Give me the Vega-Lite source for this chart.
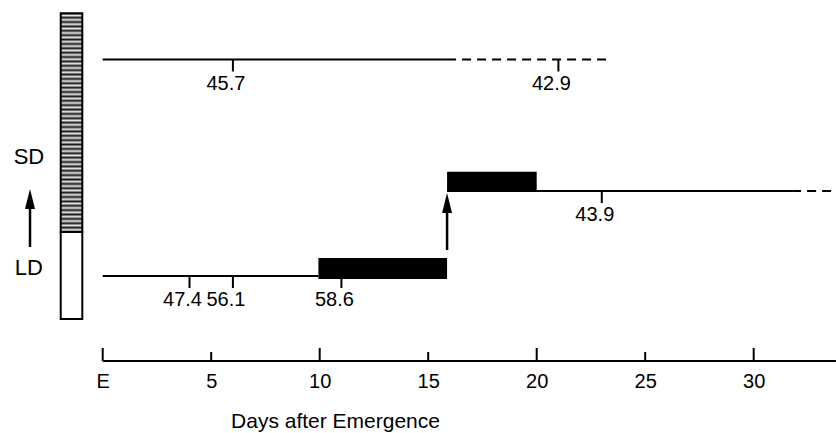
{
  "$schema": "https://vega.github.io/schema/vega-lite/v6.json",
  "width": 836,
  "height": 433,
  "autosize": {"type": "none"},
  "padding": 0,
  "background": "white",
  "config": {
    "view": {"stroke": null},
    "font": "Liberation Sans",
    "axisX": {
      "domain": false,
      "ticks": false,
      "grid": false,
      "offset": -72,
      "labelPadding": 10,
      "labelFontSize": 20,
      "labelColor": "black",
      "labelFlush": false,
      "labelOverlap": false,
      "labelBound": false,
      "labelFont": "Liberation Sans",
      "titleFont": "Liberation Sans",
      "titleFontSize": 21,
      "titleFontWeight": "normal",
      "titleColor": "black"
    }
  },
  "datasets": {
    "photoperiodBar": [
      {"day": -1.935, "day_end": -0.94, "level": 129, "level_end": 347.7, "regime": "SD"},
      {"day": -1.935, "day_end": -0.94, "level": 42, "level_end": 129, "regime": "LD"}
    ],
    "lines": [
      {"day": 0, "day_end": 15.87, "level": 301.5, "style": "solid"},
      {"day": 15.87, "day_end": 23.47, "level": 301.5, "style": "dashed"},
      {"day": 15.87, "day_end": 31.77, "level": 170, "style": "solid"},
      {"day": 31.77, "day_end": 33.79, "level": 170, "style": "dashed"},
      {"day": 0, "day_end": 9.94, "level": 85, "style": "solid"},
      {"day": 0, "day_end": 33.79, "level": 0, "style": "solid"}
    ],
    "blocks": [
      {"day": 9.94, "day_end": 15.87, "level": 82, "level_end": 103},
      {"day": 15.87, "day_end": 20.0, "level": 169.3, "level_end": 189.3}
    ],
    "readings": [
      {"day": 6, "level": 301.5, "value": "45.7"},
      {"day": 21, "level": 301.5, "value": "42.9"},
      {"day": 23, "level": 170, "value": "43.9"},
      {"day": 4, "level": 85, "value": "47.4"},
      {"day": 6, "level": 85, "value": "56.1"},
      {"day": 11, "level": 85, "value": "58.6"}
    ],
    "arrows": [
      {"day": -3.35, "level": 114, "level_end": 172},
      {"day": 15.87, "level": 111, "level_end": 168}
    ],
    "regimeLabels": [
      {"day": -3.4, "level": 204, "text": "SD"},
      {"day": -3.4, "level": 93, "text": "LD"}
    ],
    "axisTicks": [
      {"day": 0, "kind": "major"},
      {"day": 5, "kind": "minor"},
      {"day": 10, "kind": "major"},
      {"day": 15, "kind": "minor"},
      {"day": 20, "kind": "major"},
      {"day": 25, "kind": "minor"},
      {"day": 30, "kind": "major"}
    ]
  },
  "layer": [
    {
      "data": {"name": "axisTicks"},
      "transform": [{"filter": "datum.kind == 'major'"}],
      "mark": {"type": "rule", "color": "black", "strokeWidth": 2, "y2Offset": -13},
      "encoding": {
        "x": {
          "field": "day",
          "type": "quantitative",
          "scale": {"domain": [-4.733, 33.793], "nice": false, "zero": false},
          "axis": {
            "values": [0, 5, 10, 15, 20, 25, 30],
            "labelExpr": "datum.value == 0 ? 'E' : datum.label",
            "title": "Days after Emergence",
            "titleX": 335,
            "titleY": 60,
            "titleBaseline": "middle"
          }
        },
        "y": {"datum": 0, "type": "quantitative", "scale": {"domain": [-72, 361], "nice": false, "zero": false}, "axis": null},
        "y2": {"datum": 0}
      }
    },
    {
      "data": {"name": "axisTicks"},
      "transform": [{"filter": "datum.kind == 'minor'"}],
      "mark": {"type": "rule", "color": "black", "strokeWidth": 2, "y2Offset": -9},
      "encoding": {
        "x": {"field": "day", "type": "quantitative"},
        "y": {"datum": 0, "type": "quantitative", "axis": null},
        "y2": {"datum": 0}
      }
    },
    {
      "data": {"name": "lines"},
      "mark": {"type": "rule", "color": "black", "strokeWidth": 2},
      "encoding": {
        "x": {"field": "day", "type": "quantitative"},
        "x2": {"field": "day_end"},
        "y": {"field": "level", "type": "quantitative", "axis": null},
        "strokeDash": {
          "field": "style",
          "type": "nominal",
          "scale": {"domain": ["solid", "dashed"], "range": [[1, 0], [9, 6]]},
          "legend": null
        }
      }
    },
    {
      "data": {"name": "blocks"},
      "mark": {"type": "rect", "color": "black"},
      "encoding": {
        "x": {"field": "day", "type": "quantitative"},
        "x2": {"field": "day_end"},
        "y": {"field": "level", "type": "quantitative", "axis": null},
        "y2": {"field": "level_end"}
      }
    },
    {
      "data": {"name": "photoperiodBar"},
      "transform": [{"filter": "datum.regime == 'SD'"}],
      "mark": {
        "type": "rect",
        "stroke": "black",
        "strokeWidth": 2,
        "fill": {
          "gradient": "linear",
          "x1": 0, "y1": 0, "x2": 0, "y2": 1,
          "stops": [
            {"offset": 0.00, "color": "#1a1a1a"}, {"offset": 0.01, "color": "#e6e6e6"},
            {"offset": 0.02, "color": "#1a1a1a"}, {"offset": 0.03, "color": "#e6e6e6"},
            {"offset": 0.04, "color": "#1a1a1a"}, {"offset": 0.05, "color": "#e6e6e6"},
            {"offset": 0.06, "color": "#1a1a1a"}, {"offset": 0.07, "color": "#e6e6e6"},
            {"offset": 0.08, "color": "#1a1a1a"}, {"offset": 0.09, "color": "#e6e6e6"},
            {"offset": 0.10, "color": "#1a1a1a"}, {"offset": 0.11, "color": "#e6e6e6"},
            {"offset": 0.12, "color": "#1a1a1a"}, {"offset": 0.13, "color": "#e6e6e6"},
            {"offset": 0.14, "color": "#1a1a1a"}, {"offset": 0.15, "color": "#e6e6e6"},
            {"offset": 0.16, "color": "#1a1a1a"}, {"offset": 0.17, "color": "#e6e6e6"},
            {"offset": 0.18, "color": "#1a1a1a"}, {"offset": 0.19, "color": "#e6e6e6"},
            {"offset": 0.20, "color": "#1a1a1a"}, {"offset": 0.21, "color": "#e6e6e6"},
            {"offset": 0.22, "color": "#1a1a1a"}, {"offset": 0.23, "color": "#e6e6e6"},
            {"offset": 0.24, "color": "#1a1a1a"}, {"offset": 0.25, "color": "#e6e6e6"},
            {"offset": 0.26, "color": "#1a1a1a"}, {"offset": 0.27, "color": "#e6e6e6"},
            {"offset": 0.28, "color": "#1a1a1a"}, {"offset": 0.29, "color": "#e6e6e6"},
            {"offset": 0.30, "color": "#1a1a1a"}, {"offset": 0.31, "color": "#e6e6e6"},
            {"offset": 0.32, "color": "#1a1a1a"}, {"offset": 0.33, "color": "#e6e6e6"},
            {"offset": 0.34, "color": "#1a1a1a"}, {"offset": 0.35, "color": "#e6e6e6"},
            {"offset": 0.36, "color": "#1a1a1a"}, {"offset": 0.37, "color": "#e6e6e6"},
            {"offset": 0.38, "color": "#1a1a1a"}, {"offset": 0.39, "color": "#e6e6e6"},
            {"offset": 0.40, "color": "#1a1a1a"}, {"offset": 0.41, "color": "#e6e6e6"},
            {"offset": 0.42, "color": "#1a1a1a"}, {"offset": 0.43, "color": "#e6e6e6"},
            {"offset": 0.44, "color": "#1a1a1a"}, {"offset": 0.45, "color": "#e6e6e6"},
            {"offset": 0.46, "color": "#1a1a1a"}, {"offset": 0.47, "color": "#e6e6e6"},
            {"offset": 0.48, "color": "#1a1a1a"}, {"offset": 0.49, "color": "#e6e6e6"},
            {"offset": 0.50, "color": "#1a1a1a"}, {"offset": 0.51, "color": "#e6e6e6"},
            {"offset": 0.52, "color": "#1a1a1a"}, {"offset": 0.53, "color": "#e6e6e6"},
            {"offset": 0.54, "color": "#1a1a1a"}, {"offset": 0.55, "color": "#e6e6e6"},
            {"offset": 0.56, "color": "#1a1a1a"}, {"offset": 0.57, "color": "#e6e6e6"},
            {"offset": 0.58, "color": "#1a1a1a"}, {"offset": 0.59, "color": "#e6e6e6"},
            {"offset": 0.60, "color": "#1a1a1a"}, {"offset": 0.61, "color": "#e6e6e6"},
            {"offset": 0.62, "color": "#1a1a1a"}, {"offset": 0.63, "color": "#e6e6e6"},
            {"offset": 0.64, "color": "#1a1a1a"}, {"offset": 0.65, "color": "#e6e6e6"},
            {"offset": 0.66, "color": "#1a1a1a"}, {"offset": 0.67, "color": "#e6e6e6"},
            {"offset": 0.68, "color": "#1a1a1a"}, {"offset": 0.69, "color": "#e6e6e6"},
            {"offset": 0.70, "color": "#1a1a1a"}, {"offset": 0.71, "color": "#e6e6e6"},
            {"offset": 0.72, "color": "#1a1a1a"}, {"offset": 0.73, "color": "#e6e6e6"},
            {"offset": 0.74, "color": "#1a1a1a"}, {"offset": 0.75, "color": "#e6e6e6"},
            {"offset": 0.76, "color": "#1a1a1a"}, {"offset": 0.77, "color": "#e6e6e6"},
            {"offset": 0.78, "color": "#1a1a1a"}, {"offset": 0.79, "color": "#e6e6e6"},
            {"offset": 0.80, "color": "#1a1a1a"}, {"offset": 0.81, "color": "#e6e6e6"},
            {"offset": 0.82, "color": "#1a1a1a"}, {"offset": 0.83, "color": "#e6e6e6"},
            {"offset": 0.84, "color": "#1a1a1a"}, {"offset": 0.85, "color": "#e6e6e6"},
            {"offset": 0.86, "color": "#1a1a1a"}, {"offset": 0.87, "color": "#e6e6e6"},
            {"offset": 0.88, "color": "#1a1a1a"}, {"offset": 0.89, "color": "#e6e6e6"},
            {"offset": 0.90, "color": "#1a1a1a"}, {"offset": 0.91, "color": "#e6e6e6"},
            {"offset": 0.92, "color": "#1a1a1a"}, {"offset": 0.93, "color": "#e6e6e6"},
            {"offset": 0.94, "color": "#1a1a1a"}, {"offset": 0.95, "color": "#e6e6e6"},
            {"offset": 0.96, "color": "#1a1a1a"}, {"offset": 0.97, "color": "#e6e6e6"},
            {"offset": 0.98, "color": "#1a1a1a"}, {"offset": 0.99, "color": "#e6e6e6"},
            {"offset": 1.00, "color": "#1a1a1a"}
          ]
        }
      },
      "encoding": {
        "x": {"field": "day", "type": "quantitative"},
        "x2": {"field": "day_end"},
        "y": {"field": "level", "type": "quantitative", "axis": null},
        "y2": {"field": "level_end"}
      }
    },
    {
      "data": {"name": "photoperiodBar"},
      "transform": [{"filter": "datum.regime == 'LD'"}],
      "mark": {"type": "rect", "stroke": "black", "strokeWidth": 2, "fill": "white"},
      "encoding": {
        "x": {"field": "day", "type": "quantitative"},
        "x2": {"field": "day_end"},
        "y": {"field": "level", "type": "quantitative", "axis": null},
        "y2": {"field": "level_end"}
      }
    },
    {
      "data": {"name": "readings"},
      "mark": {"type": "rule", "color": "black", "strokeWidth": 2, "y2Offset": 12},
      "encoding": {
        "x": {"field": "day", "type": "quantitative"},
        "y": {"field": "level", "type": "quantitative", "axis": null},
        "y2": {"field": "level"}
      }
    },
    {
      "data": {"name": "readings"},
      "mark": {"type": "text", "color": "black", "fontSize": 20, "dx": -7, "dy": 24, "baseline": "middle", "align": "center"},
      "encoding": {
        "x": {"field": "day", "type": "quantitative"},
        "y": {"field": "level", "type": "quantitative", "axis": null},
        "text": {"field": "value"}
      }
    },
    {
      "data": {"name": "arrows"},
      "mark": {"type": "rule", "color": "black", "strokeWidth": 2.5, "y2Offset": 8},
      "encoding": {
        "x": {"field": "day", "type": "quantitative"},
        "y": {"field": "level", "type": "quantitative", "axis": null},
        "y2": {"field": "level_end"}
      }
    },
    {
      "data": {"name": "arrows"},
      "mark": {"type": "point", "filled": true, "color": "black", "opacity": 1, "shape": "M0,0L0.5,2L-0.5,2Z", "size": 400},
      "encoding": {
        "x": {"field": "day", "type": "quantitative"},
        "y": {"field": "level_end", "type": "quantitative", "axis": null}
      }
    },
    {
      "data": {"name": "regimeLabels"},
      "mark": {"type": "text", "color": "black", "fontSize": 22, "baseline": "middle", "align": "center"},
      "encoding": {
        "x": {"field": "day", "type": "quantitative"},
        "y": {"field": "level", "type": "quantitative", "axis": null},
        "text": {"field": "text"}
      }
    }
  ]
}
